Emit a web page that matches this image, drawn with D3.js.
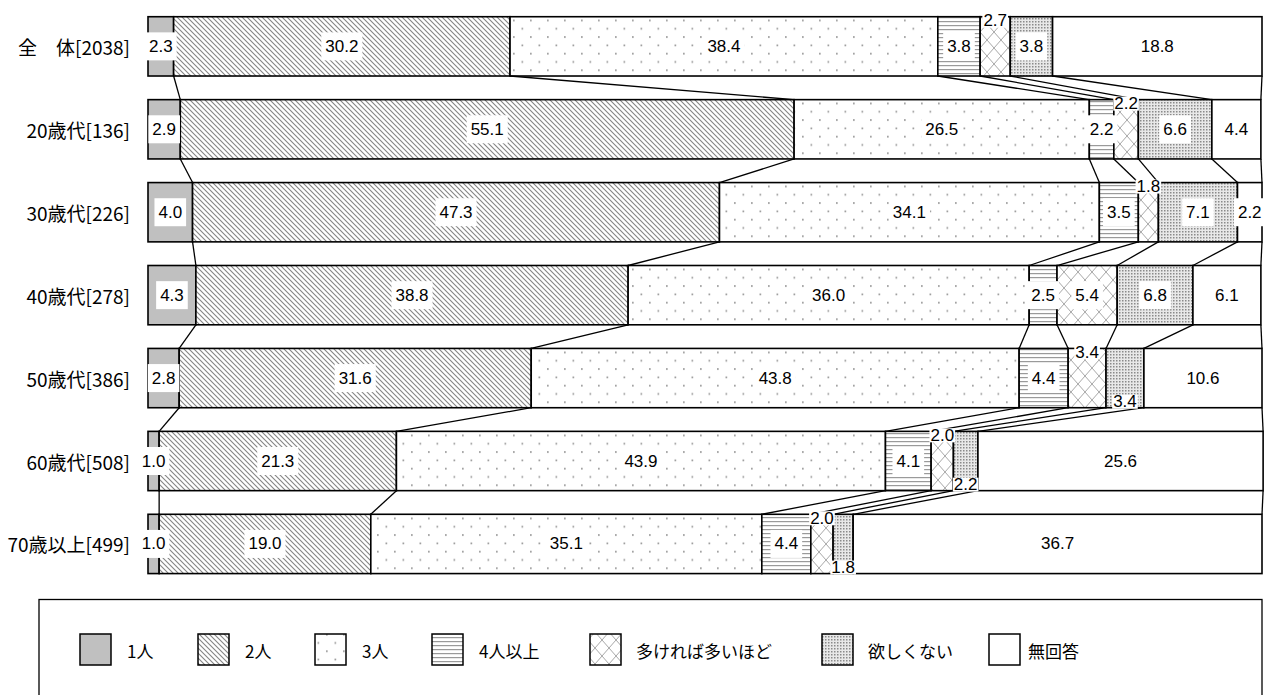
<!DOCTYPE html>
<html>
<head>
<meta charset="utf-8">
<script src="https://cdn.jsdelivr.net/npm/d3@7"></script>
<style>
  body { margin: 0; background: #fff; }
</style>
</head>
<body>
<div id="chart"></div>
<script>
// categories (rows) and series
const categories = ["全　体[2038]", "20歳代[136]", "30歳代[226]", "40歳代[278]", "50歳代[386]", "60歳代[508]", "70歳以上[499]"];
const seriesNames = ["1人", "2人", "3人", "4人以上", "多ければ多いほど", "欲しくない", "無回答"];

// values (%) per series, one entry per row
const one = [2.3, 2.9, 4.0, 4.3, 2.8, 1.0, 1.0];
const two = [30.2, 55.1, 47.3, 38.8, 31.6, 21.3, 19.0];
const three = [38.4, 26.5, 34.1, 36.0, 43.8, 43.9, 35.1];
const fourPlus = [3.8, 2.2, 3.5, 2.5, 4.4, 4.1, 4.4];
const theMore = [2.7, 2.2, 1.8, 5.4, 3.4, 2.0, 2.0];
const none = [3.8, 6.6, 7.1, 6.8, 3.4, 2.2, 1.8];
const noAnswer = [18.8, 4.4, 2.2, 6.1, 10.6, 25.6, 36.7];

const seriesValues = [one, two, three, fourPlus, theMore, none, noAnswer];

const svgWidth = 1272;
const svgHeight = 695;

const svg = d3.select("#chart")
  .append("svg")
  .attr("width", svgWidth)
  .attr("height", svgHeight);

// patterns
const defs = svg.append("defs");

function pattern(id, w, h) {
  const p = defs.append("pattern")
    .attr("id", id)
    .attr("patternUnits", "userSpaceOnUse")
    .attr("width", w)
    .attr("height", h);
  p.append("rect").attr("width", w).attr("height", h).attr("fill", "#fff");
  return p;
}

pattern("p1", 4, 4).select("rect").attr("fill", "#c0c0c0");

pattern("p2", 5, 5).append("path")
  .attr("d", "M0,0L5,5M-1,4L1,6M4,-1L6,1")
  .attr("stroke", "#858585").attr("stroke-width", 1.1);

const p3 = pattern("p3", 17, 16.6);
p3.append("rect").attr("x", 3).attr("y", 3).attr("width", 1.7).attr("height", 1.7).attr("fill", "#999");
p3.append("rect").attr("x", 11.5).attr("y", 11.3).attr("width", 1.7).attr("height", 1.7).attr("fill", "#999");

pattern("p4", 4, 4).append("rect")
  .attr("x", 0).attr("y", 1).attr("width", 4).attr("height", 1.2).attr("fill", "#9a9a9a");

pattern("p5", 14, 16).append("path")
  .attr("d", "M0,0L14,16M14,0L0,16")
  .attr("stroke", "#a8a8a8").attr("stroke-width", 1);

const p6 = pattern("p6", 3, 3);
p6.select("rect").attr("fill", "#e8e8e8");
p6.append("rect").attr("width", 1.5).attr("height", 1.5).attr("fill", "#8a8a8a");

pattern("p7", 4, 4);

const fills = ["url(#p1)", "url(#p2)", "url(#p3)", "url(#p4)", "url(#p5)", "url(#p6)", "url(#p7)"];

// scales
const x = d3.scaleLinear().domain([0, 100]).range([148, 1262]);
const y = d3.scaleBand()
  .domain(categories)
  .range([4.9, 585.4])
  .paddingInner(0.285)
  .paddingOuter(0.1425);

// stacked layout
const rows = categories.map((c, i) => {
  const r = { cat: c };
  seriesValues.forEach((s, j) => { r[j] = s[i]; });
  return r;
});
const stacked = d3.stack().keys(d3.range(seriesNames.length))(rows);

// bars
const layers = svg.append("g").selectAll("g")
  .data(stacked)
  .enter()
  .append("g")
  .attr("fill", (d, i) => fills[i]);

layers.selectAll("rect")
  .data(d => d)
  .enter()
  .append("rect")
  .attr("x", d => x(d[0]))
  .attr("y", d => y(d.data.cat))
  .attr("width", d => x(d[1]) - x(d[0]))
  .attr("height", y.bandwidth())
  .attr("stroke", "#000")
  .attr("stroke-width", 1.6);

// connector lines between rows
const conn = svg.append("g").attr("stroke", "#000").attr("stroke-width", 1.3);
stacked.forEach(layer => {
  for (let i = 0; i < categories.length - 1; i++) {
    conn.append("line")
      .attr("x1", x(layer[i][1]))
      .attr("y1", y(categories[i]) + y.bandwidth())
      .attr("x2", x(layer[i + 1][1]))
      .attr("y2", y(categories[i + 1]));
  }
});

// category labels
svg.append("g").selectAll("text")
  .data(categories)
  .enter()
  .append("text")
  .attr("x", 130)
  .attr("y", d => y(d) + y.bandwidth() / 2)
  .attr("text-anchor", "end")
  .attr("dominant-baseline", "central")
  .attr("font-family", "'Noto Sans CJK JP', sans-serif")
  .attr("font-size", 19)
  .text(d => d);

// value labels with white boxes
const labelG = svg.append("g");
stacked.forEach((layer, si) => {
  layer.forEach(d => {
    const v = d[1] - d[0];
    const top = y(d.data.cat);
    let cy = top + y.bandwidth() / 2;
    let boxH = 28;
    if (si === 4 && v < 3.5) { cy = top + 4; boxH = 14; }
    if (si === 5 && v < 3.5) { cy = top + y.bandwidth() - 6; boxH = 14; }
    const cx = x((d[0] + d[1]) / 2);
    const g = labelG.append("g");
    const box = g.append("rect").attr("fill", "#fff");
    const t = g.append("text")
      .attr("x", cx)
      .attr("y", cy)
      .attr("text-anchor", "middle")
      .attr("dominant-baseline", "central")
      .attr("font-family", "'Liberation Sans', Arial, sans-serif")
      .attr("font-size", 17)
      .text(v.toFixed(1));
    const w = t.node().getComputedTextLength();
    const pad = boxH === 28 ? 4 : 1;
    box.attr("x", cx - w / 2 - pad)
      .attr("y", cy - boxH / 2)
      .attr("width", w + pad * 2)
      .attr("height", boxH);
  });
});

// legend
const legendX = [80, 198, 315, 432, 590, 822, 989];
const legendTextGap = [47, 47, 47, 47, 46, 46, 39];

svg.append("rect")
  .attr("x", 39)
  .attr("y", 599.5)
  .attr("width", 1223)
  .attr("height", 140)
  .attr("fill", "none")
  .attr("stroke", "#000")
  .attr("stroke-width", 1.3);

const legend = svg.append("g").selectAll("g")
  .data(seriesNames)
  .enter()
  .append("g");

legend.append("rect")
  .attr("x", (d, i) => legendX[i])
  .attr("y", 634)
  .attr("width", 31)
  .attr("height", 31)
  .attr("fill", (d, i) => fills[i])
  .attr("stroke", "#000")
  .attr("stroke-width", 1.5);

legend.append("text")
  .attr("x", (d, i) => legendX[i] + legendTextGap[i])
  .attr("y", 650)
  .attr("dominant-baseline", "central")
  .attr("font-family", "'Noto Sans CJK JP', sans-serif")
  .attr("font-size", 17)
  .text(d => d);
</script>
</body>
</html>
